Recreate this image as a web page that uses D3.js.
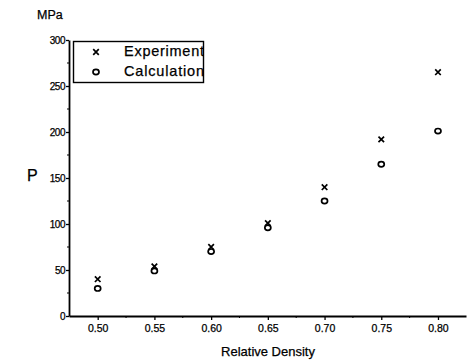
<!DOCTYPE html>
<html lang="en">

<head>
    <meta charset="UTF-8">
    <title>Pressure vs relative density</title>
    <script src="https://d3js.org/d3.v7.min.js"></script>
    <style>
        body { margin: 0; background: #fff; }
        svg { font-family: "Liberation Sans", Arial, sans-serif; }
        svg text { fill: #000; stroke: #000; stroke-width: 0.25px; }
    </style>
</head>

<body>
    <svg id="chart" width="467" height="361"></svg>

    <script>
        // data
        const density = [0.50, 0.55, 0.60, 0.65, 0.70, 0.75, 0.80];
        const experiment = [40, 54, 75, 101, 140, 192, 265];
        const calculation = [30, 49, 70, 96, 125, 165, 201];
        const xTicks = [0.50, 0.55, 0.60, 0.65, 0.70, 0.75, 0.80];
        const yTicks = [0, 50, 100, 150, 200, 250, 300];

        const svg = d3.select("#chart");

        // plot frame
        const plotLeft = 69, plotRight = 466, plotTop = 40, plotBottom = 316;

        const x = d3.scaleLinear().domain([0.4747, 0.8247]).range([plotLeft, plotRight]);
        const y = d3.scaleLinear().domain([0, 300]).range([plotBottom, plotTop]);

        // x axis
        const xAxis = svg.append("g")
            .attr("transform", `translate(0, ${plotBottom})`)
            .call(d3.axisBottom(x).tickValues(xTicks).tickFormat(d3.format(".2f"))
                .tickSize(4).tickSizeOuter(0));
        xAxis.select(".domain").attr("stroke-width", 1.8);
        xAxis.selectAll(".tick line").attr("stroke-width", 1.3);
        xAxis.selectAll("text").attr("font-size", 10.5).attr("dy", "0.9em");
        // minor ticks
        svg.append("g")
            .selectAll("line")
            .data(d3.range(0.525, 0.8, 0.05))
            .join("line")
            .attr("x1", d => x(d)).attr("x2", d => x(d))
            .attr("y1", plotBottom).attr("y2", plotBottom + 2)
            .attr("stroke", "#000");

        // y axis
        const yAxis = svg.append("g")
            .attr("transform", `translate(${plotLeft}, 0)`)
            .call(d3.axisLeft(y).tickValues(yTicks).tickSize(3).tickSizeOuter(0).tickPadding(1));
        yAxis.select(".domain").attr("stroke-width", 1.8);
        yAxis.selectAll(".tick line").attr("stroke-width", 1.3);
        yAxis.selectAll("text").attr("font-size", 10).attr("letter-spacing", "-0.5");
        svg.append("g")
            .selectAll("line")
            .data(d3.range(25, 300, 50))
            .join("line")
            .attr("x1", plotLeft - 2).attr("x2", plotLeft)
            .attr("y1", d => y(d)).attr("y2", d => y(d))
            .attr("stroke", "#000");

        // axis labels
        svg.append("text")
            .attr("x", 37).attr("y", 19)
            .attr("font-size", 12.5)
            .text("MPa");
        svg.append("text")
            .attr("x", 27).attr("y", 181)
            .attr("font-size", 16)
            .text("P");
        svg.append("text")
            .attr("x", 268).attr("y", 356)
            .attr("text-anchor", "middle")
            .attr("font-size", 13)
            .text("Relative Density");

        // markers
        const cross = d3.symbol().type(d3.symbolX).size(22);
        svg.append("g")
            .selectAll("path")
            .data(density.map((d, i) => [d, experiment[i]]))
            .join("path")
            .attr("transform", d => `translate(${x(d[0])}, ${y(d[1])})`)
            .attr("d", cross)
            .attr("fill", "none")
            .attr("stroke", "#000")
            .attr("stroke-width", 1.7);

        svg.append("g")
            .selectAll("ellipse")
            .data(density.map((d, i) => [d, calculation[i]]))
            .join("ellipse")
            .attr("cx", d => x(d[0]))
            .attr("cy", d => y(d[1]))
            .attr("rx", 3).attr("ry", 2.6)
            .attr("fill", "none")
            .attr("stroke", "#000")
            .attr("stroke-width", 1.7);

        // legend (text runs into the right border, as in the original)
        svg.append("clipPath").attr("id", "legend-clip")
            .append("rect")
            .attr("x", 73.5).attr("y", 41.5)
            .attr("width", 130).attr("height", 41);
        const legend = svg.append("g");
        legend.append("rect")
            .attr("x", 73.5).attr("y", 41.5)
            .attr("width", 130).attr("height", 41)
            .attr("fill", "#fff")
            .attr("stroke", "#000")
            .attr("stroke-width", 1.4);
        legend.append("path")
            .attr("transform", "translate(96, 52)")
            .attr("d", cross)
            .attr("fill", "none").attr("stroke", "#000").attr("stroke-width", 1.7);
        legend.append("ellipse")
            .attr("cx", 96).attr("cy", 72)
            .attr("rx", 3).attr("ry", 2.6)
            .attr("fill", "none").attr("stroke", "#000").attr("stroke-width", 1.7);
        const legendText = legend.append("g").attr("clip-path", "url(#legend-clip)");
        legendText.append("text")
            .attr("x", 124).attr("y", 56)
            .attr("font-size", 14.5)
            .attr("textLength", 80)
            .text("Experiment");
        legendText.append("text")
            .attr("x", 124).attr("y", 76)
            .attr("font-size", 14.5)
            .attr("textLength", 80)
            .text("Calculation");
    </script>
</body>

</html>
